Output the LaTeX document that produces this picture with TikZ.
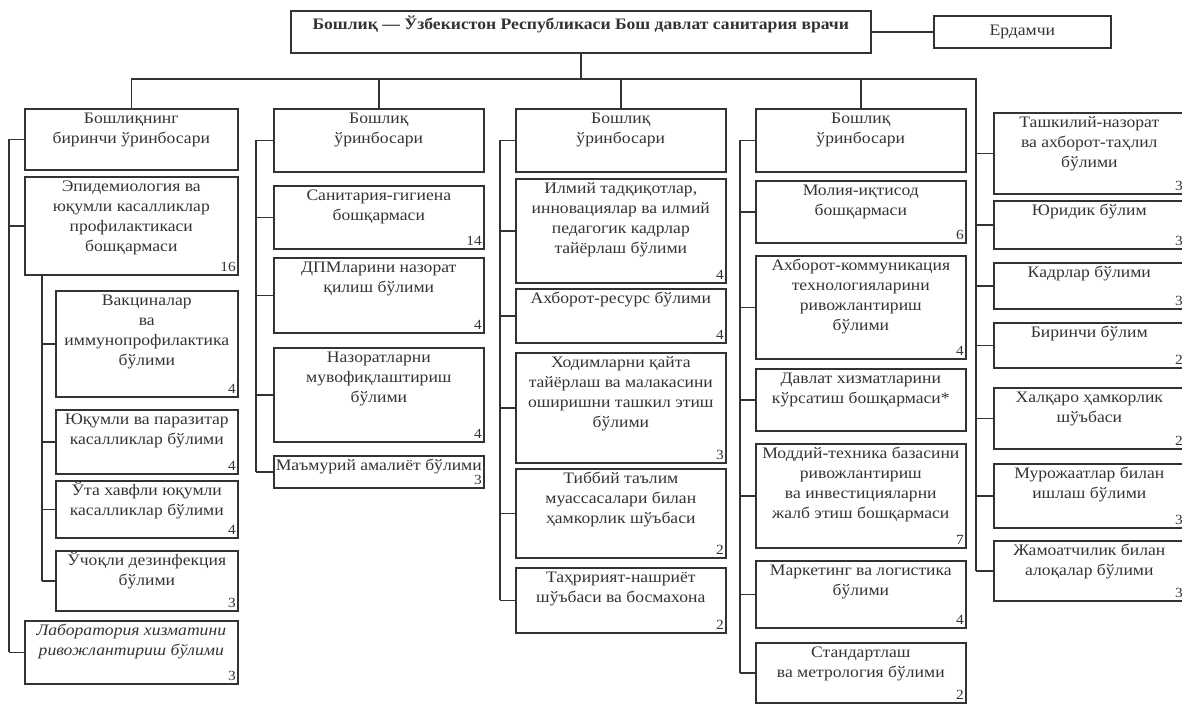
\documentclass[tikz,border=0pt]{standalone}
\usepackage{fontspec}
\setmainfont{Liberation Serif}[FakeStretch=1.1]
\definecolor{ink}{HTML}{333333}
\tikzset{
  obox/.style={draw=ink, line width=1.6pt, inner sep=0pt, text=ink, anchor=north west,
    font=\fontsize{16}{20}\selectfont},
  conn/.style={draw=ink, line width=1.4pt},
}
\newcommand\numfont{\fontsize{14}{14}\selectfont\upshape}
\newcommand\orgbox[7]{%
  \node[obox] (#1) at (#2,#3) {\parbox[c][\dimexpr #5pt-#3pt\relax][t]{\dimexpr #4pt-#2pt\relax}{%
    \hyphenpenalty=10000 \exhyphenpenalty=10000
    \vspace*{1pt}\centering\strut #6\par\vfill\nointerlineskip
    \raggedleft\numfont\smash{#7}\hspace*{2pt}\par\vspace*{3pt}}};}
\begin{document}
\begin{tikzpicture}[x=1pt,y=-1pt]
\useasboundingbox (0,0) rectangle (1182,704);
% top
\node[obox] (top) at (290,10) {\parbox[c][42pt][t]{580pt}{\vspace*{5pt}\centering\bfseries\strut Бошлиқ — Ўзбекистон Республикаси Бош давлат санитария врачи\par}};
\node[obox, anchor=north west, minimum width=177pt, minimum height=32pt] (asst) at (933,15) {Ердамчи};
% column 1
\orgbox{c1h}{24}{108}{237}{169}{Бошлиқнинг\\биринчи ўринбосари}{}
\orgbox{c1a}{24}{176}{237}{274}{Эпидемиология ва\\юқумли касалликлар\\профилактикаси\\бошқармаси}{16}
\orgbox{c1a1}{55}{290}{237}{396}{Вакциналар\\ва\\иммунопрофилактика\\бўлими}{4}
\orgbox{c1a2}{55}{409}{237}{473}{Юқумли ва паразитар\\касалликлар бўлими}{4}
\orgbox{c1a3}{55}{480}{237}{537}{Ўта хавфли юқумли\\касалликлар бўлими}{4}
\orgbox{c1a4}{55}{550}{237}{610}{Ўчоқли дезинфекция\\бўлими}{3}
\orgbox{c1b}{24}{620}{237}{683}{\itshape Лаборатория хизматини\\ривожлантириш бўлими}{3}
% column 2
\orgbox{c2h}{273}{108}{483}{171}{Бошлиқ\\ўринбосари}{}
\orgbox{c2a}{273}{185}{483}{248}{Санитария-гигиена\\бошқармаси}{14}
\orgbox{c2b}{273}{257}{483}{332}{ДПМларини назорат\\қилиш бўлими}{4}
\orgbox{c2c}{273}{347}{483}{441}{Назоратларни\\мувофиқлаштириш\\бўлими}{4}
\orgbox{c2d}{273}{455}{483}{487}{\makebox[0pt]{Маъмурий амалиёт бўлими}}{3}
% column 3
\orgbox{c3h}{515}{108}{725}{171}{Бошлиқ\\ўринбосари}{}
\orgbox{c3a}{515}{178}{725}{282}{Илмий тадқиқотлар,\\инновациялар ва илмий\\педагогик кадрлар\\тайёрлаш бўлими}{4}
\orgbox{c3b}{515}{288}{725}{342}{Ахборот-ресурс бўлими}{4}
\orgbox{c3c}{515}{352}{725}{462}{Ходимларни қайта\\тайёрлаш ва малакасини\\оширишни ташкил этиш\\бўлими}{3}
\orgbox{c3d}{515}{468}{725}{557}{Тиббий таълим\\муассасалари билан\\ҳамкорлик шўъбаси}{2}
\orgbox{c3e}{515}{567}{725}{632}{Таҳририят-нашриёт\\шўъбаси ва босмахона}{2}
% column 4
\orgbox{c4h}{755}{108}{965}{171}{Бошлиқ\\ўринбосари}{}
\orgbox{c4a}{755}{180}{965}{242}{Молия-иқтисод\\бошқармаси}{6}
\orgbox{c4b}{755}{255}{965}{358}{Ахборот-коммуникация\\технологияларини\\ривожлантириш\\бўлими}{4}
\orgbox{c4c}{755}{368}{965}{430}{Давлат хизматларини\\кўрсатиш бошқармаси*}{}
\orgbox{c4d}{755}{443}{965}{547}{Моддий-техника базасини\\ривожлантириш\\ва инвестицияларни\\жалб этиш бошқармаси}{7}
\orgbox{c4e}{755}{560}{965}{627}{Маркетинг ва логистика\\бўлими}{4}
\orgbox{c4f}{755}{642}{965}{702}{Стандартлаш\\ва метрология бўлими}{2}
% right column
\orgbox{r1}{993}{112}{1184}{193}{Ташкилий-назорат\\ва ахборот-таҳлил\\бўлими}{3}
\orgbox{r2}{993}{200}{1184}{248}{Юридик бўлим}{3}
\orgbox{r3}{993}{262}{1184}{308}{Кадрлар бўлими}{3}
\orgbox{r4}{993}{322}{1184}{367}{Биринчи бўлим}{2}
\orgbox{r5}{993}{387}{1184}{448}{Халқаро ҳамкорлик\\шўъбаси}{2}
\orgbox{r6}{993}{463}{1184}{527}{Мурожаатлар билан\\ишлаш бўлими}{3}
\orgbox{r7}{993}{540}{1184}{600}{Жамоатчилик билан\\алоқалар бўлими}{3}
% trunk coordinates
\coordinate (hl) at (0,79);
\coordinate (t1) at (9,0);
\coordinate (t1s) at (42,0);
\coordinate (t2) at (256,0);
\coordinate (t3) at (500,0);
\coordinate (t4) at (740,0);
\coordinate (tr) at (976,0);
% top connectors
\draw[conn] (top.east) -- (asst.west);
\draw[conn] (top.south) -- (top.south |- hl);
\draw[conn] (c1h.north |- hl) -- (tr |- hl) -- (tr |- r7.west);
\foreach \n in {c1h,c2h,c3h,c4h} \draw[conn] (\n.north) -- (\n.north |- hl);
% trunks
\draw[conn] (c1h.west -| t1) -- (c1b.west -| t1);
\foreach \n in {c1h,c1a,c1b} \draw[conn] (\n.west) -- (\n.west -| t1);
\draw[conn] (c1a.south -| t1s) -- (c1a4.west -| t1s);
\foreach \n in {c1a1,c1a2,c1a3,c1a4} \draw[conn] (\n.west) -- (\n.west -| t1s);
\draw[conn] (c2h.west -| t2) -- (c2d.west -| t2);
\foreach \n in {c2h,c2a,c2b,c2c,c2d} \draw[conn] (\n.west) -- (\n.west -| t2);
\draw[conn] (c3h.west -| t3) -- (c3e.west -| t3);
\foreach \n in {c3h,c3a,c3b,c3c,c3d,c3e} \draw[conn] (\n.west) -- (\n.west -| t3);
\draw[conn] (c4h.west -| t4) -- (c4f.west -| t4);
\foreach \n in {c4h,c4a,c4b,c4c,c4d,c4e,c4f} \draw[conn] (\n.west) -- (\n.west -| t4);
\foreach \n in {r1,r2,r3,r4,r5,r6,r7} \draw[conn] (\n.west) -- (\n.west -| tr);
\end{tikzpicture}
\end{document}
